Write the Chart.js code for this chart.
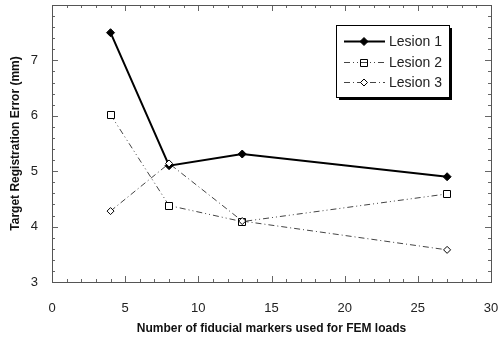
<!DOCTYPE html>
<html>
<head>
<meta charset="utf-8">
<script src="https://cdn.jsdelivr.net/npm/chart.js@4.4.1/dist/chart.umd.min.js"></script>
<style>
  html, body { margin: 0; padding: 0; background: #fff; }
  #wrap { position: relative; width: 501px; height: 342px; }
</style>
</head>
<body>
<div id="wrap"><canvas id="chart" width="501" height="342"></canvas></div>
<script>
// valeurs
const markers = [4, 8, 13, 27];
const lesion1 = [7.5, 5.1, 5.31, 4.9];
const lesion2 = [6.02, 4.38, 4.09, 4.59];
const lesion3 = [4.28, 5.14, 4.1, 3.58];
const seriesNames = ['Lesion 1', 'Lesion 2', 'Lesion 3'];

const X_MIN = 0, X_MAX = 30, Y_MIN = 3, Y_MAX = 8;

const pts = (ys) => markers.map((x, i) => ({ x: x, y: ys[i] }));

/* cadre + graduations vers l'intérieur, sur les 4 côtés */
const frameTicks = {
    id: 'frameTicks',
    afterDatasetsDraw(chart) {
        const { ctx, chartArea: a, scales } = chart;
        const sx = scales.x, sy = scales.y;
        ctx.save();
        ctx.strokeStyle = '#666';
        ctx.lineWidth = 1;
        ctx.beginPath();
        for (let v = X_MIN; v <= X_MAX; v++) {
            const px = Math.round(sx.getPixelForValue(v)) + 0.5;
            const len = v % 5 === 0 ? 6 : 3;
            ctx.moveTo(px, a.bottom); ctx.lineTo(px, a.bottom - len);
            ctx.moveTo(px, a.top); ctx.lineTo(px, a.top + len);
        }
        for (let k = 0; k <= (Y_MAX - Y_MIN) * 5; k++) {
            const v = Y_MIN + k * 0.2;
            const py = Math.round(sy.getPixelForValue(v)) + 0.5;
            const len = k % 5 === 0 ? 6 : 3;
            ctx.moveTo(a.left, py); ctx.lineTo(a.left + len, py);
            ctx.moveTo(a.right, py); ctx.lineTo(a.right - len, py);
        }
        ctx.stroke();
        ctx.strokeStyle = '#555';
        ctx.strokeRect(Math.round(a.left) + 0.5, Math.round(a.top) + 0.5,
            Math.round(a.right - a.left), Math.round(a.bottom - a.top));
        ctx.restore();
    }
};

function drawMarker(ctx, style, x, y, fill) {
    ctx.save();
    ctx.lineWidth = 1;
    ctx.strokeStyle = '#000';
    ctx.beginPath();
    if (style === 'square') {
        ctx.rect(Math.round(x) - 3.5, Math.round(y) - 3.5, 7, 7);
        if (fill) { ctx.fillStyle = '#fff'; ctx.fill(); }
        ctx.stroke();
    } else {
        const r = style === 'filled' ? 4 : 3.5;
        ctx.moveTo(x, y - r); ctx.lineTo(x + r, y); ctx.lineTo(x, y + r); ctx.lineTo(x - r, y);
        ctx.closePath();
        ctx.fillStyle = style === 'filled' ? '#000' : '#fff';
        if (style === 'filled' || fill) ctx.fill();
        ctx.stroke();
    }
    ctx.restore();
}

/* légende encadrée avec ombre */
const boxLegend = {
    id: 'boxLegend',
    afterDraw(chart) {
        const { ctx } = chart;
        const bx = 336, by = 25, bw = 113, bh = 72;
        ctx.save();
        ctx.fillStyle = '#000';
        ctx.fillRect(bx + 3, by + 3, bw, bh);
        ctx.fillStyle = '#fff';
        ctx.fillRect(bx, by, bw, bh);
        ctx.strokeStyle = '#000';
        ctx.lineWidth = 1;
        ctx.strokeRect(bx + 0.5, by + 0.5, bw, bh);
        const kinds = ['filled', 'square', 'open'];
        chart.data.datasets.forEach((ds, i) => {
            const y = Math.round(by + 16 + i * 20.5) + 0.5;
            ctx.save();
            ctx.strokeStyle = ds.borderColor;
            ctx.lineWidth = ds.borderWidth;
            ctx.setLineDash(ds.borderDash || []);
            ctx.beginPath();
            ctx.moveTo(bx + 8, y); ctx.lineTo(bx + 49, y);
            ctx.stroke();
            ctx.restore();
            drawMarker(ctx, kinds[i], bx + 28, y, i === 2);
            ctx.fillStyle = '#222';
            ctx.font = '14px "Liberation Sans", Arial, sans-serif';
            ctx.textBaseline = 'middle';
            ctx.fillText(ds.label, bx + 53, y + 1);
        });
        ctx.restore();
    }
};

/* marqueurs dessinés sur les points calculés par Chart.js */
const customPoints = {
    id: 'customPoints',
    afterDatasetsDraw(chart) {
        const kinds = ['filled', 'square', 'open'];
        chart.data.datasets.forEach((ds, i) => {
            chart.getDatasetMeta(i).data.forEach(p => drawMarker(chart.ctx, kinds[i], p.x, p.y, true));
        });
    }
};

new Chart(document.getElementById('chart'), {
    type: 'line',
    data: {
        datasets: [
            { label: seriesNames[0], data: pts(lesion1), borderColor: '#000', borderWidth: 2, pointRadius: 0 },
            { label: seriesNames[1], data: pts(lesion2), borderColor: '#444', borderWidth: 1, borderDash: [6, 3, 1, 3, 1, 3], pointRadius: 0 },
            { label: seriesNames[2], data: pts(lesion3), borderColor: '#444', borderWidth: 1, borderDash: [6, 3, 1, 3], pointRadius: 0 },
        ],
    },
    options: {
        responsive: false,
        animation: false,
        events: [],
        layout: { padding: { left: 0, right: 10, top: 5, bottom: 0 } },
        plugins: { legend: { display: false }, tooltip: { enabled: false } },
        scales: {
            x: {
                type: 'linear', min: X_MIN, max: X_MAX,
                border: { display: false },
                grid: { display: false, drawTicks: false },
                ticks: { stepSize: 5, padding: 19, color: '#222',
                    font: { family: '"Liberation Sans", Arial, sans-serif', size: 13 } },
                title: { display: true, text: 'Number of fiducial markers used for FEM loads', color: '#111',
                    padding: { top: 0, bottom: 6 },
                    font: { family: '"Liberation Sans", Arial, sans-serif', size: 12, weight: 'bold' } },
                afterFit(s) { s.height = 60; s.paddingLeft = 0; s.paddingRight = 0; },
            },
            y: {
                type: 'linear', min: Y_MIN, max: Y_MAX,
                border: { display: false },
                grid: { display: false, drawTicks: false },
                ticks: { stepSize: 1, padding: 14, color: '#222',
                    callback: (v) => v === Y_MAX ? '' : v,
                    font: { family: '"Liberation Sans", Arial, sans-serif', size: 13 } },
                title: { display: true, text: 'Target Registration Error (mm)', color: '#111',
                    padding: { top: 8, bottom: 0 },
                    font: { family: '"Liberation Sans", Arial, sans-serif', size: 12, weight: 'bold' } },
                afterFit(s) { s.width = 52; s.paddingTop = 0; s.paddingBottom = 0; },
            },
        },
    },
    plugins: [frameTicks, customPoints, boxLegend],
});
</script>
</body>
</html>
